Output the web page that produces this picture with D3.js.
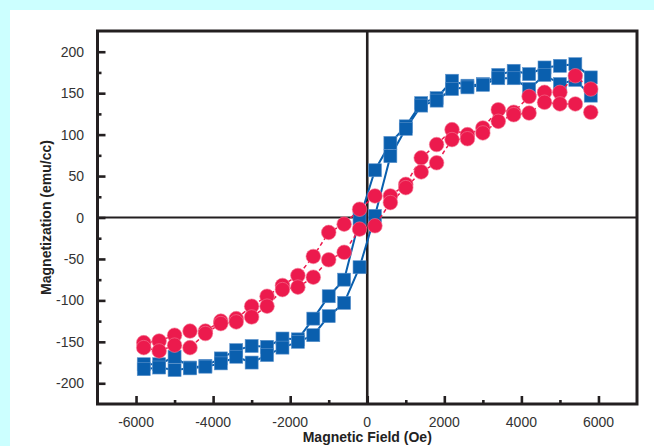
<!DOCTYPE html>
<html>
<head>
<meta charset="utf-8">
<script src="https://cdn.jsdelivr.net/npm/d3@7"></script>
<style>
  html, body { margin: 0; padding: 0; background: #ccffff; }
  svg { display: block; }
  text { font-family: "Liberation Sans", Arial, Helvetica, sans-serif; }
</style>
</head>
<body>
<svg id="chart" width="654" height="446"></svg>
<script>
// Applied field (Oe) for each measured point
const fields = [-5800, -5400, -5000, -4600, -4200, -3800, -3400, -3000, -2600, -2200,
                -1800, -1400, -1000, -600, -200, 200, 600, 1000, 1400, 1800,
                2200, 2600, 3000, 3400, 3800, 4200, 4600, 5000, 5400, 5800];

// Blue squares: descending (upper) and ascending (lower) branches, emu/cc
const blueUpper = [-177, -177, -168, -181, -179, -170, -160, -155, -156, -146,
                   -147, -122, -95, -75, -2, 57, 90, 110, 138, 144,
                   165, 159, 161, 172, 177, 173, 181, 183, 185, 169];
const blueLower = [-183, -181, -184, -182, -180, -176, -168, -175, -166, -157,
                   -150, -142, -119, -103, -60, 2, 74, 107, 135, 141,
                   155, 157, 160, 168, 168, 155, 172, 161, 166, 147];

// Red circles: descending (upper) and ascending (lower) branches, emu/cc
const redUpper = [-151, -149, -142, -137, -137, -125, -122, -107, -95, -82,
                  -70, -47, -18, -8, 10, 26, 26, 40, 72, 88,
                  106, 100, 108, 130, 127, 146, 151, 151, 171, 155];
const redLower = [-157, -161, -154, -157, -140, -128, -126, -120, -107, -87,
                  -84, -72, -51, -42, -14, -10, 18, 36, 55, 66,
                  94, 95, 102, 116, 124, 126, 139, 137, 137, 127];

const xMajorTicks = [-6000, -4000, -2000, 0, 2000, 4000, 6000];
const xMinorTicks = [-5000, -3000, -1000, 1000, 3000, 5000];
const yMajorTicks = [-200, -150, -100, -50, 0, 50, 100, 150, 200];
const yMinorTicks = [-175, -125, -75, -25, 25, 75, 125, 175];

const svg = d3.select("#chart");

// white panel on cyan background
svg.append("rect").attr("x", 10).attr("y", 10).attr("width", 644).attr("height", 436).attr("fill", "#ffffff");

const L = 97.5, R = 637, T = 31, B = 404;
const x = d3.scaleLinear().domain([-7000, 7000]).range([L, R]);
const y = d3.scaleLinear().domain([-225, 225]).range([B, T]);

const ink = "#231f20";
const blue = "#0a5fae";
const red = "#ec1a4d";

// Ticks (inward) — bottom axis
const xAxisMajor = d3.axisBottom(x).tickValues(xMajorTicks).tickSize(-8).tickFormat("");
const xAxisMinor = d3.axisBottom(x).tickValues(xMinorTicks).tickSize(-4).tickFormat("");
const gxMaj = svg.append("g").attr("transform", `translate(0,${B})`).call(xAxisMajor);
const gxMin = svg.append("g").attr("transform", `translate(0,${B})`).call(xAxisMinor);
[gxMaj, gxMin].forEach(g => {
  g.select(".domain").remove();
  g.selectAll(".tick line").attr("stroke", ink).attr("stroke-width", 2.6);
});

// Left axis ticks
const yAxisMajor = d3.axisLeft(y).tickValues(yMajorTicks).tickSize(-8).tickFormat("");
const yAxisMinor = d3.axisLeft(y).tickValues(yMinorTicks).tickSize(-4).tickFormat("");
const gyMaj = svg.append("g").attr("transform", `translate(${L},0)`).call(yAxisMajor);
const gyMin = svg.append("g").attr("transform", `translate(${L},0)`).call(yAxisMinor);
[gyMaj, gyMin].forEach(g => {
  g.select(".domain").remove();
  g.selectAll(".tick line").attr("stroke", ink).attr("stroke-width", 2.6);
});

// Tick labels
svg.append("g").selectAll("text").data(xMajorTicks).join("text")
  .attr("x", d => x(d)).attr("y", 427)
  .attr("text-anchor", "middle")
  .attr("font-size", 14).attr("fill", "#333")
  .text(d => d < 0 ? "-" + Math.abs(d) : String(d));

svg.append("g").selectAll("text").data(yMajorTicks).join("text")
  .attr("x", 84).attr("y", d => y(d))
  .attr("dy", "0.36em")
  .attr("text-anchor", "end")
  .attr("font-size", 14).attr("fill", "#333")
  .text(d => d < 0 ? "-" + Math.abs(d) : String(d));

// Zero lines
svg.append("line").attr("x1", L).attr("x2", R).attr("y1", y(0)).attr("y2", y(0))
  .attr("stroke", ink).attr("stroke-width", 2.2);
svg.append("line").attr("x1", x(0)).attr("x2", x(0)).attr("y1", T).attr("y2", B)
  .attr("stroke", ink).attr("stroke-width", 2.6);

// Frame
svg.append("rect").attr("x", L).attr("y", T).attr("width", R - L).attr("height", B - T)
  .attr("fill", "none").attr("stroke", ink).attr("stroke-width", 3);

// Axis titles
svg.append("text").attr("x", x(0)).attr("y", 442)
  .attr("text-anchor", "middle").attr("font-size", 14).attr("font-weight", "bold").attr("fill", "#222")
  .text("Magnetic Field (Oe)");
svg.append("text").attr("transform", `translate(51,${y(0)}) rotate(-90)`)
  .attr("text-anchor", "middle").attr("font-size", 14).attr("font-weight", "bold").attr("fill", "#222")
  .text("Magnetization (emu/cc)");

const line = d3.line().x(d => x(d[0])).y(d => y(d[1]));
const pairs = arr => fields.map((f, i) => [f, arr[i]]);

// Blue series
const plot = svg.append("g");
[blueUpper, blueLower].forEach(arr => {
  plot.append("path").datum(pairs(arr)).attr("d", line)
    .attr("fill", "none").attr("stroke", blue).attr("stroke-width", 2);
});
const sq = 13;
[blueUpper, blueLower].forEach(arr => {
  plot.append("g").selectAll("rect").data(pairs(arr)).join("rect")
    .attr("x", d => x(d[0]) - sq / 2).attr("y", d => y(d[1]) - sq / 2)
    .attr("width", sq).attr("height", sq)
    .attr("fill", blue).attr("stroke", "#5d93cc").attr("stroke-width", 0.6);
});

// Red series
[redUpper, redLower].forEach(arr => {
  plot.append("path").datum(pairs(arr)).attr("d", line)
    .attr("fill", "none").attr("stroke", red).attr("stroke-width", 1.5)
    .attr("stroke-dasharray", "4,3");
});
[redUpper, redLower].forEach(arr => {
  plot.append("g").selectAll("circle").data(pairs(arr)).join("circle")
    .attr("cx", d => x(d[0])).attr("cy", d => y(d[1]))
    .attr("r", 7.3)
    .attr("fill", red).attr("stroke", "#f37a95").attr("stroke-width", 0.6);
});
</script>
</body>
</html>
